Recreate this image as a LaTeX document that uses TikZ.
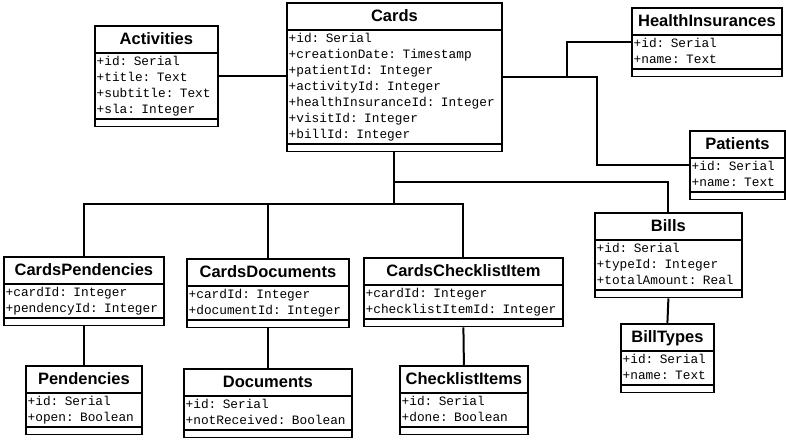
\documentclass[tikz,border=0pt]{standalone}
\usepackage{fontspec}
\setmainfont{Liberation Sans}
\setmonofont{Liberation Mono}
\usetikzlibrary{shapes.multipart}
\setlength{\parindent}{0pt}
\newcommand{\titletext}[1]{{\centering\rmfamily\bfseries\fontsize{16.5}{18}\selectfont\rule[-7.5pt]{0pt}{25.5pt}#1\par}}
\newcommand{\fieldrow}[1]{\rule[-4pt]{0pt}{16pt}#1\par}
\newcommand{\closepart}{\nodepart{three}\rule{0pt}{6pt}}
\begin{document}
\begin{tikzpicture}[x=1pt,y=-1pt,
  entity/.style={draw,line width=1.8pt,rectangle split,rectangle split parts=3,
    anchor=north west,inner xsep=2pt,inner ysep=0pt,align=left,
    font=\ttfamily\fontsize{12.8}{16}\selectfont},
  link/.style={line width=2pt}]
\useasboundingbox (0,0) rectangle (786,440);
% main table
\node[entity,text width=211.5pt] (cards) at (285.75,1.75) {\titletext{Cards}\nodepart{two}%
  \fieldrow{+id: Serial}\fieldrow{+creationDate: Timestamp}\fieldrow{+patientId: Integer}%
  \fieldrow{+activityId: Integer}\fieldrow{+healthInsuranceId: Integer}%
  \fieldrow{+visitId: Integer}\fieldrow{+billId: Integer}\closepart};
% lookup tables
\node[entity,text width=119.5pt] (activities) at (93.75,24.75) {\titletext{Activities}\nodepart{two}%
  \fieldrow{+id: Serial}\fieldrow{+title: Text}\fieldrow{+subtitle: Text}\fieldrow{+sla: Integer}\closepart};
\node[entity,text width=146.5pt] (healthins) at (630.75,6.75) {\titletext{HealthInsurances}\nodepart{two}%
  \fieldrow{+id: Serial}\fieldrow{+name: Text}\closepart};
\node[entity,text width=91.5pt] (patients) at (688.75,129.75) {\titletext{Patients}\nodepart{two}%
  \fieldrow{+id: Serial}\fieldrow{+name: Text}\closepart};
\node[entity,text width=143.5pt] (bills) at (593.75,211.75) {\titletext{Bills}\nodepart{two}%
  \fieldrow{+id: Serial}\fieldrow{+typeId: Integer}\fieldrow{+totalAmount: Real}\closepart};
\node[entity,text width=89.5pt] (billtypes) at (619.75,322.75) {\titletext{BillTypes}\nodepart{two}%
  \fieldrow{+id: Serial}\fieldrow{+name: Text}\closepart};
% join tables
\node[entity,text width=156.5pt] (cardspend) at (2.75,255.75) {\titletext{CardsPendencies}\nodepart{two}%
  \fieldrow{+cardId: Integer}\fieldrow{+pendencyId: Integer}\closepart};
\node[entity,text width=158.5pt] (cardsdocs) at (185.75,257.75) {\titletext{CardsDocuments}\nodepart{two}%
  \fieldrow{+cardId: Integer}\fieldrow{+documentId: Integer}\closepart};
\node[entity,text width=195.5pt] (cardscheck) at (362.75,256.75) {\titletext{CardsChecklistItem}\nodepart{two}%
  \fieldrow{+cardId: Integer}\fieldrow{+checklistItemId: Integer}\closepart};
\node[entity,text width=112.5pt] (pendencies) at (24.75,364.75) {\titletext{Pendencies}\nodepart{two}%
  \fieldrow{+id: Serial}\fieldrow{+open: Boolean}\closepart};
\node[entity,text width=164.5pt] (documents) at (182.75,367.75) {\titletext{Documents}\nodepart{two}%
  \fieldrow{+id: Serial}\fieldrow{+notReceived: Boolean}\closepart};
\node[entity,text width=124.5pt] (checkitems) at (398.75,364.75) {\titletext{ChecklistItems}\nodepart{two}%
  \fieldrow{+id: Serial}\fieldrow{+done: Boolean}\closepart};
% relations
\draw[link] (activities.east) -- (cards.west |- activities.east);
\draw[link] (cards.east) -- ++(64,0) |- (healthins.west);
\draw[link] (cards.east) -- ++(94,0) |- (patients.west);
\draw[link] (cards.south) -- ++(0,30) -| (bills.north);
\draw[link] (cards.south) -- ++(0,52) coordinate (fork);
\draw[link] (fork) -| (cardspend.north);
\draw[link] (fork) -| (cardscheck.north);
\draw[link] (cardsdocs.north) -- (cardsdocs.north |- fork);
\draw[link] (cardspend.south) -- (pendencies.north);
\draw[link] (cardsdocs.south) -- (documents.north);
\draw[link] (cardscheck.south) -- (checkitems.north);
\draw[link] (bills.south) -- (billtypes.north);
\end{tikzpicture}
\end{document}
